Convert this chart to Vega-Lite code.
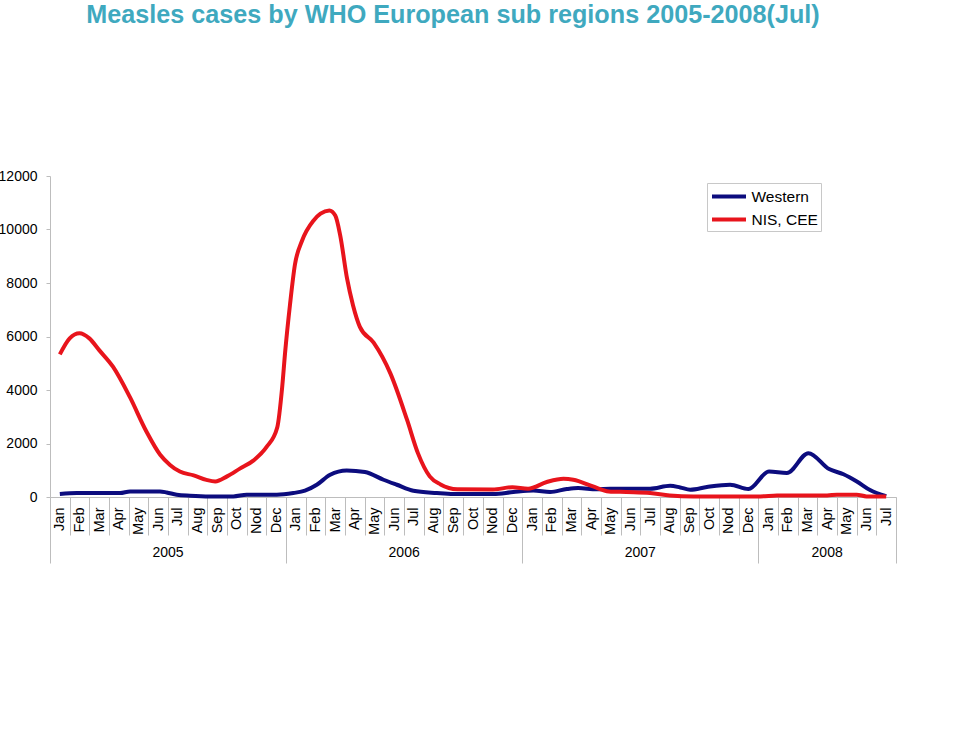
{
  "$schema": "https://vega.github.io/schema/vega-lite/v6.json",
  "width": 846,
  "height": 321,
  "autosize": {"type": "none"},
  "padding": {"left": 50, "top": 176, "right": 64, "bottom": 235},
  "background": "white",
  "title": {
    "text": "Measles cases by WHO European sub regions 2005-2008(Jul)",
    "fontSize": 25.2,
    "fontWeight": "bold",
    "color": "#3FA9BF",
    "font": "Liberation Sans",
    "anchor": "middle",
    "frame": "group",
    "dx": -20,
    "offset": 141
  },
  "config": {
    "font": "Liberation Sans",
    "view": {"stroke": null},
    "axis": {"grid": false, "domainColor": "#BDBDBD", "tickColor": "#BDBDBD", "labelColor": "#000000", "labelFont": "Liberation Sans"}
  },
  "datasets": {
    "cases": [
      {"series": "Western", "t": 0, "v": 112},
      {"series": "Western", "t": 0.86, "v": 149},
      {"series": "Western", "t": 3.06, "v": 149},
      {"series": "Western", "t": 3.57, "v": 209},
      {"series": "Western", "t": 5.09, "v": 209},
      {"series": "Western", "t": 5.43, "v": 171},
      {"series": "Western", "t": 5.94, "v": 86},
      {"series": "Western", "t": 6.62, "v": 48},
      {"series": "Western", "t": 7.63, "v": 22},
      {"series": "Western", "t": 8.82, "v": 22},
      {"series": "Western", "t": 9.5, "v": 86},
      {"series": "Western", "t": 11.03, "v": 86},
      {"series": "Western", "t": 11.87, "v": 149},
      {"series": "Western", "t": 12.46, "v": 235},
      {"series": "Western", "t": 13.06, "v": 458},
      {"series": "Western", "t": 13.74, "v": 831},
      {"series": "Western", "t": 14.58, "v": 991},
      {"series": "Western", "t": 15.51, "v": 932},
      {"series": "Western", "t": 16.45, "v": 645},
      {"series": "Western", "t": 17.13, "v": 458},
      {"series": "Western", "t": 17.97, "v": 235},
      {"series": "Western", "t": 19.16, "v": 149},
      {"series": "Western", "t": 20.0, "v": 112},
      {"series": "Western", "t": 22.04, "v": 112},
      {"series": "Western", "t": 23.05, "v": 186},
      {"series": "Western", "t": 24.07, "v": 240},
      {"series": "Western", "t": 24.92, "v": 186},
      {"series": "Western", "t": 25.77, "v": 298},
      {"series": "Western", "t": 26.34, "v": 335},
      {"series": "Western", "t": 27.29, "v": 290},
      {"series": "Western", "t": 27.97, "v": 309},
      {"series": "Western", "t": 30.0, "v": 309},
      {"series": "Western", "t": 31.02, "v": 421},
      {"series": "Western", "t": 31.53, "v": 358},
      {"series": "Western", "t": 32.04, "v": 272},
      {"series": "Western", "t": 32.89, "v": 373},
      {"series": "Western", "t": 34.07, "v": 458},
      {"series": "Western", "t": 35.0, "v": 298},
      {"series": "Western", "t": 36.05, "v": 954},
      {"series": "Western", "t": 36.95, "v": 895},
      {"series": "Western", "t": 38.05, "v": 1640},
      {"series": "Western", "t": 39.1, "v": 1044},
      {"series": "Western", "t": 39.83, "v": 850},
      {"series": "Western", "t": 40.51, "v": 581},
      {"series": "Western", "t": 41.18, "v": 260},
      {"series": "Western", "t": 42.0, "v": 30},
      {"series": "NIS, CEE", "t": 0, "v": 5330},
      {"series": "NIS, CEE", "t": 0.5, "v": 5930},
      {"series": "NIS, CEE", "t": 1.0, "v": 6120},
      {"series": "NIS, CEE", "t": 1.5, "v": 5930},
      {"series": "NIS, CEE", "t": 2.0, "v": 5490},
      {"series": "NIS, CEE", "t": 2.7, "v": 4870},
      {"series": "NIS, CEE", "t": 3.55, "v": 3750},
      {"series": "NIS, CEE", "t": 4.4, "v": 2450},
      {"series": "NIS, CEE", "t": 5.1, "v": 1580},
      {"series": "NIS, CEE", "t": 5.6, "v": 1200},
      {"series": "NIS, CEE", "t": 6.1, "v": 950},
      {"series": "NIS, CEE", "t": 6.8, "v": 810},
      {"series": "NIS, CEE", "t": 7.45, "v": 640},
      {"series": "NIS, CEE", "t": 7.9, "v": 580},
      {"series": "NIS, CEE", "t": 8.5, "v": 770},
      {"series": "NIS, CEE", "t": 9.15, "v": 1060},
      {"series": "NIS, CEE", "t": 9.85, "v": 1370},
      {"series": "NIS, CEE", "t": 10.5, "v": 1860},
      {"series": "NIS, CEE", "t": 11.05, "v": 2600},
      {"series": "NIS, CEE", "t": 11.3, "v": 4100},
      {"series": "NIS, CEE", "t": 11.45, "v": 5400},
      {"series": "NIS, CEE", "t": 11.7, "v": 7200},
      {"series": "NIS, CEE", "t": 11.95, "v": 8690},
      {"series": "NIS, CEE", "t": 12.3, "v": 9560},
      {"series": "NIS, CEE", "t": 12.9, "v": 10340},
      {"series": "NIS, CEE", "t": 13.25, "v": 10590},
      {"series": "NIS, CEE", "t": 13.7, "v": 10710},
      {"series": "NIS, CEE", "t": 14.0, "v": 10520},
      {"series": "NIS, CEE", "t": 14.25, "v": 9780},
      {"series": "NIS, CEE", "t": 14.6, "v": 8160},
      {"series": "NIS, CEE", "t": 14.9, "v": 7170},
      {"series": "NIS, CEE", "t": 15.25, "v": 6360},
      {"series": "NIS, CEE", "t": 15.95, "v": 5770},
      {"series": "NIS, CEE", "t": 16.8, "v": 4620},
      {"series": "NIS, CEE", "t": 17.65, "v": 2880},
      {"series": "NIS, CEE", "t": 18.2, "v": 1640},
      {"series": "NIS, CEE", "t": 18.8, "v": 770},
      {"series": "NIS, CEE", "t": 19.35, "v": 470},
      {"series": "NIS, CEE", "t": 20.2, "v": 290},
      {"series": "NIS, CEE", "t": 22.0, "v": 280},
      {"series": "NIS, CEE", "t": 23.0, "v": 365},
      {"series": "NIS, CEE", "t": 23.8, "v": 310},
      {"series": "NIS, CEE", "t": 24.75, "v": 560},
      {"series": "NIS, CEE", "t": 25.6, "v": 680},
      {"series": "NIS, CEE", "t": 26.1, "v": 645},
      {"series": "NIS, CEE", "t": 27.1, "v": 395},
      {"series": "NIS, CEE", "t": 27.9, "v": 210},
      {"series": "NIS, CEE", "t": 28.8, "v": 186},
      {"series": "NIS, CEE", "t": 30.0, "v": 149},
      {"series": "NIS, CEE", "t": 31.0, "v": 60},
      {"series": "NIS, CEE", "t": 32.2, "v": 22},
      {"series": "NIS, CEE", "t": 35.6, "v": 22},
      {"series": "NIS, CEE", "t": 36.45, "v": 60},
      {"series": "NIS, CEE", "t": 39.0, "v": 60},
      {"series": "NIS, CEE", "t": 39.5, "v": 86},
      {"series": "NIS, CEE", "t": 40.5, "v": 86},
      {"series": "NIS, CEE", "t": 41.0, "v": 22},
      {"series": "NIS, CEE", "t": 42.0, "v": 22}
    ],
    "months": [
      {"key": "Jan 2005"}, {"key": "Feb 2005"}, {"key": "Mar 2005"}, {"key": "Apr 2005"}, {"key": "May 2005"}, {"key": "Jun 2005"},
      {"key": "Jul 2005"}, {"key": "Aug 2005"}, {"key": "Sep 2005"}, {"key": "Oct 2005"}, {"key": "Nod 2005"}, {"key": "Dec 2005"},
      {"key": "Jan 2006"}, {"key": "Feb 2006"}, {"key": "Mar 2006"}, {"key": "Apr 2006"}, {"key": "May 2006"}, {"key": "Jun 2006"},
      {"key": "Jul 2006"}, {"key": "Aug 2006"}, {"key": "Sep 2006"}, {"key": "Oct 2006"}, {"key": "Nod 2006"}, {"key": "Dec 2006"},
      {"key": "Jan 2007"}, {"key": "Feb 2007"}, {"key": "Mar 2007"}, {"key": "Apr 2007"}, {"key": "May 2007"}, {"key": "Jun 2007"},
      {"key": "Jul 2007"}, {"key": "Aug 2007"}, {"key": "Sep 2007"}, {"key": "Oct 2007"}, {"key": "Nod 2007"}, {"key": "Dec 2007"},
      {"key": "Jan 2008"}, {"key": "Feb 2008"}, {"key": "Mar 2008"}, {"key": "Apr 2008"}, {"key": "May 2008"}, {"key": "Jun 2008"},
      {"key": "Jul 2008"}
    ],
    "years": [
      {"year": "2005", "mid": 5.5},
      {"year": "2006", "mid": 17.5},
      {"year": "2007", "mid": 29.5},
      {"year": "2008", "mid": 39}
    ]
  },
  "resolve": {"scale": {"x": "independent"}, "axis": {"x": "independent"}},
  "layer": [
    {
      "data": {"name": "months"},
      "mark": {"type": "point", "opacity": 0},
      "encoding": {
        "x": {
          "field": "key", "type": "nominal", "sort": null,
          "scale": {"type": "band", "paddingInner": 0, "paddingOuter": 0},
          "axis": {
            "orient": "bottom", "title": null, "tickBand": "extent", "tickSize": 38,
            "labelAngle": 270, "labelPadding": -28, "labelFontSize": 14.5, "labelOverlap": false,
            "labelExpr": "datum.value ? split(datum.value, ' ')[0] : ''"
          }
        },
        "y": {
          "datum": 0, "type": "quantitative",
          "scale": {"domain": [0, 12000], "nice": false},
          "axis": {"values": [0, 2000, 4000, 6000, 8000, 10000, 12000], "title": null, "tickSize": 4, "labelPadding": 9, "labelFontSize": 14, "format": "d"}
        }
      }
    },
    {
      "layer": [
        {
          "data": {"name": "cases"},
          "transform": [{"filter": "datum.series === 'Western'"}],
          "mark": {"type": "line", "strokeWidth": 4, "interpolate": "monotone"},
          "encoding": {
            "x": {
              "field": "t", "type": "quantitative",
              "scale": {"domain": [-0.5, 42.5], "nice": false, "zero": false},
              "axis": {"orient": "bottom", "title": null, "values": [-0.5, 11.5, 23.5, 35.5, 42.5], "tickSize": 66, "labels": false, "domain": false}
            },
            "y": {
              "field": "v", "type": "quantitative",
              "scale": {"domain": [0, 12000], "nice": false},
              "axis": {"values": [0, 2000, 4000, 6000, 8000, 10000, 12000], "title": null, "tickSize": 4, "labelPadding": 9, "labelFontSize": 14, "format": "d"}
            },
            "color": {
              "field": "series", "type": "nominal",
              "scale": {"domain": ["Western", "NIS, CEE"], "range": ["#0C0C7E", "#E8141C"]},
              "legend": {
                "orient": "none", "legendX": 657, "legendY": 7, "title": null,
                "symbolType": "M-2,0H2", "symbolSize": 289, "symbolStrokeWidth": 4,
                "symbolOffset": 8.5, "labelOffset": 12, "rowPadding": 4,
                "labelFontSize": 15.5, "labelColor": "#000000",
                "strokeColor": "#C8C8C8", "fillColor": "#FFFFFF", "padding": 3
              }
            }
          }
        },
        {
          "data": {"name": "cases"},
          "transform": [{"filter": "datum.series === 'NIS, CEE'"}],
          "mark": {"type": "line", "strokeWidth": 4, "interpolate": "monotone"},
          "encoding": {
            "x": {
              "field": "t", "type": "quantitative",
              "scale": {"domain": [-0.5, 42.5], "nice": false, "zero": false},
              "axis": {"orient": "bottom", "title": null, "values": [-0.5, 11.5, 23.5, 35.5, 42.5], "tickSize": 66, "labels": false, "domain": false}
            },
            "y": {
              "field": "v", "type": "quantitative",
              "scale": {"domain": [0, 12000], "nice": false},
              "axis": {"values": [0, 2000, 4000, 6000, 8000, 10000, 12000], "title": null, "tickSize": 4, "labelPadding": 9, "labelFontSize": 14, "format": "d"}
            },
            "color": {
              "field": "series", "type": "nominal",
              "scale": {"domain": ["Western", "NIS, CEE"], "range": ["#0C0C7E", "#E8141C"]},
              "legend": {
                "orient": "none", "legendX": 657, "legendY": 7, "title": null,
                "symbolType": "M-2,0H2", "symbolSize": 289, "symbolStrokeWidth": 4,
                "symbolOffset": 8.5, "labelOffset": 12, "rowPadding": 4,
                "labelFontSize": 15.5, "labelColor": "#000000",
                "strokeColor": "#C8C8C8", "fillColor": "#FFFFFF", "padding": 3
              }
            }
          }
        },
        {
          "data": {"name": "years"},
          "mark": {"type": "text", "fontSize": 14, "color": "#000000", "dy": 56, "baseline": "middle", "align": "center"},
          "encoding": {
            "x": {
              "field": "mid", "type": "quantitative",
              "scale": {"domain": [-0.5, 42.5], "nice": false, "zero": false},
              "axis": {"orient": "bottom", "title": null, "values": [-0.5, 11.5, 23.5, 35.5, 42.5], "tickSize": 66, "labels": false, "domain": false}
            },
            "y": {
              "datum": 0, "type": "quantitative",
              "scale": {"domain": [0, 12000], "nice": false},
              "axis": {"values": [0, 2000, 4000, 6000, 8000, 10000, 12000], "title": null, "tickSize": 4, "labelPadding": 9, "labelFontSize": 14, "format": "d"}
            },
            "text": {"field": "year"}
          }
        }
      ]
    }
  ]
}
